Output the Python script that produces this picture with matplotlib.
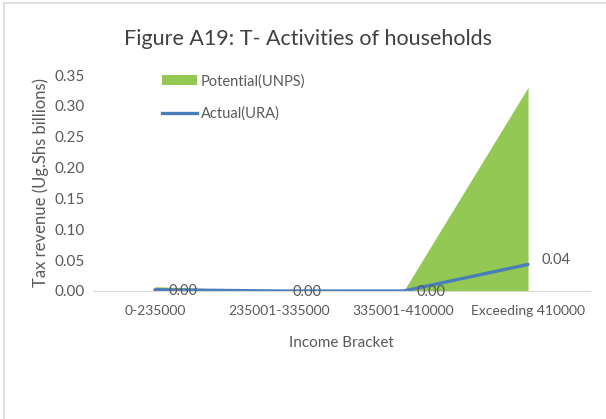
import numpy as np
import matplotlib.pyplot as plt
from matplotlib.patches import Patch
from matplotlib.lines import Line2D

plt.rcParams['font.family'] = ['Lato', 'DejaVu Sans']

# 數據
brackets = ["0-235000", "235001-335000", "335001-410000", "Exceeding 410000"]
potential = [0.007, 0.0, 0.0, 0.330]
actual = [0.002, 0.0, 0.0, 0.043]
actual_labels = ["0.00", "0.00", "0.00", "0.04"]

green = '#92C853'
blue = '#4A7EBB'
grey = '#595959'

fig = plt.figure(figsize=(6.06, 4.19), dpi=100)
ax = fig.add_axes([0.153, 0.3055, 0.821, 0.5155])

x = np.arange(len(brackets))
ax.fill_between(x, potential, 0, color=green, linewidth=0)
ax.plot(x, actual, color=blue, linewidth=2.4, solid_capstyle='round')

# 資料標籤
for i, (xv, yv) in enumerate(zip(x, actual)):
    if i == len(x) - 1:
        ax.annotate(actual_labels[i], (xv, yv), xytext=(10, 3), textcoords='offset points',
                    ha='left', va='center', fontsize=10.5, color=grey)
    else:
        ax.annotate(actual_labels[i], (xv, yv), xytext=(20, -1), textcoords='offset points',
                    ha='center', va='center', fontsize=10.5, color=grey)

ax.set_xlim(-0.5, len(brackets) - 0.5)
ax.set_ylim(0, 0.35)
ax.set_yticks(np.arange(0, 0.351, 0.05))
ax.set_yticklabels([f"{v:.2f}" for v in np.arange(0, 0.351, 0.05)])
ax.set_xticks(x)
ax.set_xticklabels(brackets)
ax.tick_params(axis='both', length=0, colors=grey)
ax.tick_params(axis='x', pad=10, labelsize=10)
ax.tick_params(axis='y', pad=6, labelsize=11)

for s in ['top', 'right', 'left']:
    ax.spines[s].set_visible(False)
ax.spines['bottom'].set_color('#D9D9D9')
ax.spines['bottom'].set_linewidth(0.8)

ax.set_xlabel("Income Bracket", fontsize=11, color=grey, labelpad=14)
ax.set_ylabel("Tax revenue (Ug.Shs billions)", fontsize=12, color=grey, labelpad=4)
fig.text(0.508, 0.908, "Figure A19: T- Activities of households", ha='center', va='center',
         fontsize=15.5, color='#404040')

handles = [Patch(facecolor=green, edgecolor='none', label='Potential(UNPS)'),
           Line2D([0], [0], color=blue, linewidth=2.4, label='Actual(URA)')]
ax.legend(handles=handles, loc='upper left', bbox_to_anchor=(0.112, 1.065), frameon=False,
          fontsize=10.5, labelcolor=grey, handlelength=2.4, handletextpad=0.3,
          labelspacing=1.25)

# 外框 (只有左邊和上邊)
fig.add_artist(Line2D([0.006, 0.006], [0.0, 0.993], transform=fig.transFigure,
                      color='#D9D9D9', linewidth=1.2))
fig.add_artist(Line2D([0.006, 1.0], [0.993, 0.993], transform=fig.transFigure,
                      color='#D9D9D9', linewidth=1.2))

fig.savefig("out.png", dpi=100)
